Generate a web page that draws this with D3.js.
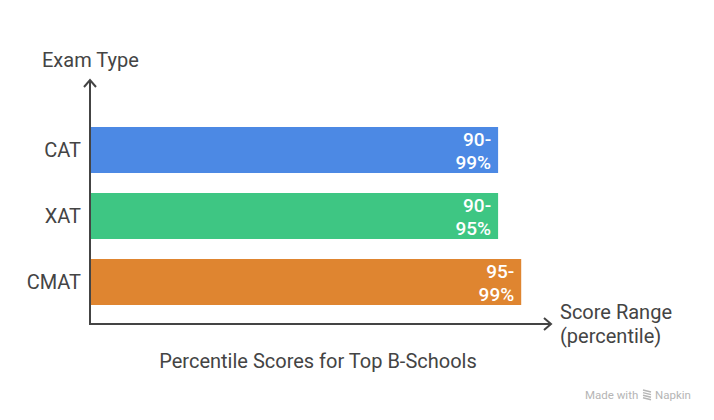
<!DOCTYPE html>
<html>
<head>
<meta charset="utf-8">
<script src="https://cdn.jsdelivr.net/npm/d3@7"></script>
<style>
  body { margin: 0; background: #fff; }
  svg { font-family: Roboto, "Noto Sans", sans-serif; }
</style>
</head>
<body>
<div id="viz"></div>
<script>
// chart data
const exams = ["CAT", "XAT", "CMAT"];
const barValues = [93.6, 93.6, 98.9];          // bar length
const rangeLabels = [["90-", "99%"], ["90-", "95%"], ["95-", "99%"]];
const barColors = ["#4c89e4", "#3ec683", "#df8530"];

const WIDTH = 714, HEIGHT = 420;
const axisX = 90, axisBottom = 324;

const svg = d3.select("#viz").append("svg")
  .attr("width", WIDTH)
  .attr("height", HEIGHT);

const x = d3.scaleLinear()
  .domain([0, 100])
  .range([axisX, axisX + 436]);

const y = d3.scaleBand()
  .domain(exams)
  .range([127 - 10, 305 + 10])
  .paddingInner(20 / 66)
  .paddingOuter(10 / 66);

const rows = exams.map((e, i) => ({exam: e, value: barValues[i], label: rangeLabels[i], color: barColors[i]}));

// bars
svg.selectAll("rect.bar")
  .data(rows)
  .join("rect")
  .attr("class", "bar")
  .attr("x", x(0))
  .attr("y", d => y(d.exam))
  .attr("width", d => x(d.value) - x(0))
  .attr("height", y.bandwidth())
  .attr("fill", d => d.color);

// value labels inside bars
const vl = svg.selectAll("text.val")
  .data(rows)
  .join("text")
  .attr("class", "val")
  .attr("text-anchor", "end")
  .attr("fill", "#fff")
  .style("font-size", "19px")
  .style("font-weight", "500");
vl.append("tspan")
  .attr("x", d => x(d.value) - 7)
  .attr("y", d => y(d.exam) + 19)
  .text(d => d.label[0]);
vl.append("tspan")
  .attr("x", d => x(d.value) - 7)
  .attr("y", d => y(d.exam) + 42)
  .text(d => d.label[1]);

// category labels
svg.selectAll("text.cat")
  .data(rows)
  .join("text")
  .attr("class", "cat")
  .attr("x", axisX - 9)
  .attr("y", d => y(d.exam) + y.bandwidth() / 2 + 7)
  .attr("text-anchor", "end")
  .attr("fill", "#444")
  .style("font-size", "20px")
  .text(d => d.exam);

// axes with arrows
const axisColor = "#444";
svg.append("path")
  .attr("d", `M${axisX},80 L${axisX},${axisBottom} L551,${axisBottom}`)
  .attr("fill", "none")
  .attr("stroke", axisColor)
  .attr("stroke-width", 2);
svg.append("path")
  .attr("d", `M${axisX - 6},87 L${axisX},80 L${axisX + 6},87`)
  .attr("fill", "none")
  .attr("stroke", axisColor)
  .attr("stroke-width", 2);
svg.append("path")
  .attr("d", `M544,${axisBottom - 6} L551,${axisBottom} L544,${axisBottom + 6}`)
  .attr("fill", "none")
  .attr("stroke", axisColor)
  .attr("stroke-width", 2);

// axis titles
svg.append("text")
  .attr("x", 42)
  .attr("y", 67)
  .attr("fill", "#444")
  .style("font-size", "20px")
  .text("Exam Type");

const xt = svg.append("text")
  .attr("fill", "#444")
  .style("font-size", "20px");
xt.append("tspan").attr("x", 560).attr("y", 319).text("Score Range");
xt.append("tspan").attr("x", 560).attr("y", 343).text("(percentile)");

// chart caption
svg.append("text")
  .attr("x", 318)
  .attr("y", 368)
  .attr("text-anchor", "middle")
  .attr("fill", "#444")
  .style("font-size", "20px")
  .text("Percentile Scores for Top B-Schools");

// watermark
const wm = svg.append("g").attr("fill", "#b5b5b5");
wm.append("text")
  .attr("x", 585)
  .attr("y", 399)
  .style("font-size", "11.5px")
  .text("Made with");
wm.append("text")
  .attr("x", 655)
  .attr("y", 399)
  .style("font-size", "11.5px")
  .text("Napkin");
svg.append("g")
  .attr("stroke", "#b5b5b5")
  .attr("stroke-width", 1.4)
  .selectAll("line")
  .data([0, 1, 2, 3])
  .join("line")
  .attr("x1", 643)
  .attr("x2", 651)
  .attr("y1", d => 390 + d * 2.6)
  .attr("y2", d => 392 + d * 2.6);
</script>
</body>
</html>
